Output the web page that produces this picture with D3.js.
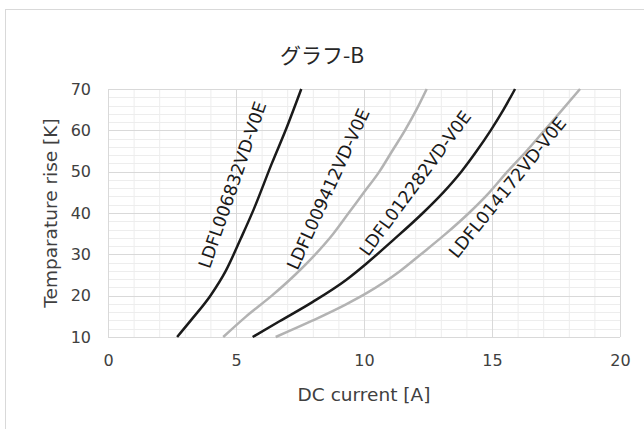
<!DOCTYPE html>
<html><head><meta charset="utf-8">
<script src="https://cdn.jsdelivr.net/npm/d3@7"></script>
<style>html,body{margin:0;padding:0;background:#fff;overflow:hidden}</style>
</head><body>
<script>
const titleText = "グラフ-B";
const xTitle = "DC current [A]";
const yTitle = "Temparature rise [K]";
const xTicks = [0, 5, 10, 15, 20];
const yTicks = [10, 20, 30, 40, 50, 60, 70];
const seriesNames = ["LDFL006832VD-V0E", "LDFL009412VD-V0E", "LDFL012282VD-V0E", "LDFL014172VD-V0E"];
const seriesColors = ["#1a1a1a", "#b3b3b3", "#1a1a1a", "#b3b3b3"];
const s1 = [[2.7,10],[3.3,14.5],[4.0,20],[4.6,26],[5.2,34],[5.7,41],[6.4,52],[7.0,61],[7.55,70]];
const s2 = [[4.5,10],[5.4,15],[6.4,20],[7.3,25],[8.1,30],[8.8,35],[9.4,40],[10.0,45],[10.6,50],[11.1,55],[11.6,60],[12.05,65],[12.45,70]];
const s3 = [[5.65,10],[6.7,13.8],[8.0,18.5],[9.3,23.8],[10.1,27.8],[11.15,33.5],[12.3,40],[13.1,45],[13.8,50],[14.4,55],[14.95,60],[15.45,65],[15.9,70]];
const s4 = [[6.55,10],[8.0,14.0],[9.3,17.9],[10.1,20.6],[11.4,25.9],[12.2,29.9],[13.2,35],[14.1,40],[14.9,45],[15.6,50],[16.35,55],[17.05,60],[17.75,65],[18.44,70]];
const seriesData = [s1, s2, s3, s4];
// label anchors in data units, rotation in degrees
const labelAnchors = [[4.86,46.8],[8.6,45.8],[12.0,47.2],[15.6,46.2]];
const labelAngles = [-71, -65.5, -53.6, -51];

const W = 644, H = 429;
const svg = d3.select("body").append("svg").attr("width", W).attr("height", H);
svg.append("rect").attr("x", 5.5).attr("y", 9.5).attr("width", 700).attr("height", 500)
  .attr("fill", "#fff").attr("stroke", "#d9d9d9").attr("stroke-width", 1);

const m = {l:108, r:620, t:89, b:337};
const x = d3.scaleLinear().domain([0,20]).range([m.l, m.r]);
const y = d3.scaleLinear().domain([10,70]).range([m.b, m.t]);

const g = svg.append("g");
// minor grid
g.append("g").selectAll("line").data(d3.range(0, 21, 1).filter(v => v % 5 !== 0)).join("line")
  .attr("x1", d => x(d)+0.5).attr("x2", d => x(d)+0.5).attr("y1", y(10)).attr("y2", y(70))
  .attr("stroke", "#ededed").attr("stroke-width", 1);
g.append("g").selectAll("line").data(d3.range(10, 71, 2).filter(v => v % 10 !== 0)).join("line")
  .attr("y1", d => Math.round(y(d))+0.5).attr("y2", d => Math.round(y(d))+0.5).attr("x1", x(0)).attr("x2", x(20))
  .attr("stroke", "#ededed").attr("stroke-width", 1);
// major grid
g.append("g").selectAll("line").data(xTicks).join("line")
  .attr("x1", d => x(d)+0.5).attr("x2", d => x(d)+0.5).attr("y1", y(10)).attr("y2", y(70))
  .attr("stroke", "#d9d9d9").attr("stroke-width", 1);
g.append("g").selectAll("line").data(yTicks).join("line")
  .attr("y1", d => Math.round(y(d))+0.5).attr("y2", d => Math.round(y(d))+0.5).attr("x1", x(0)).attr("x2", x(20))
  .attr("stroke", "#d9d9d9").attr("stroke-width", 1);

// axes (labels only)
const font = "'DejaVu Sans', Verdana, sans-serif";
const xAxis = svg.append("g").attr("transform", `translate(0,${m.b+18})`)
  .call(d3.axisBottom(x).tickValues(xTicks).tickSize(0).tickPadding(0));
xAxis.select(".domain").remove();
xAxis.selectAll("text").attr("font-family", font).attr("font-size", 16).attr("fill", "#404040").attr("dy", "0.71em");
const yAxis = svg.append("g").attr("transform", `translate(${m.l-17},0)`)
  .call(d3.axisLeft(y).tickValues(yTicks).tickSize(0).tickPadding(0));
yAxis.select(".domain").remove();
yAxis.selectAll("text").attr("font-family", font).attr("font-size", 16).attr("fill", "#404040");

// lines
const line = d3.line().x(d => x(d[0])).y(d => y(d[1])).curve(d3.curveMonotoneX);
svg.append("g").selectAll("path").data(seriesData).join("path")
  .attr("d", line).attr("fill", "none")
  .attr("stroke", (d,i) => seriesColors[i]).attr("stroke-width", 2.5).attr("stroke-linecap", "butt");

// series labels
svg.append("g").selectAll("text").data(seriesNames).join("text")
  .attr("transform", (d,i) => `translate(${x(labelAnchors[i][0])},${y(labelAnchors[i][1])}) rotate(${labelAngles[i]})`)
  .attr("text-anchor", "middle").attr("dy", "0.35em")
  .attr("font-family", font).attr("font-size", 17.5).attr("fill", "#1a1a1a")
  .text(d => d);

// titles
svg.append("text").attr("x", 322).attr("y", 63).attr("text-anchor", "middle")
  .attr("font-family", "'Noto Sans CJK JP', sans-serif").attr("font-size", 21).attr("fill", "#262626")
  .text(titleText);
svg.append("text").attr("x", (m.l+m.r)/2).attr("y", 401).attr("text-anchor", "middle")
  .attr("font-family", font).attr("font-size", 18.5).attr("fill", "#404040").text(xTitle);
svg.append("text").attr("transform", `translate(57,${(m.t+m.b)/2}) rotate(-90)`).attr("text-anchor", "middle")
  .attr("font-family", font).attr("font-size", 18.5).attr("fill", "#404040").text(yTitle);
</script>
</body></html>
